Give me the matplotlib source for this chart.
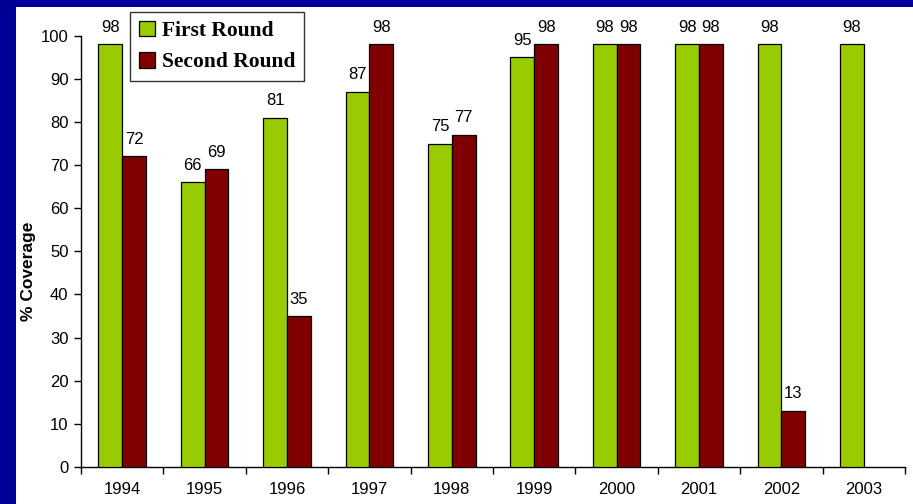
import matplotlib
matplotlib.use("Agg")
import matplotlib.pyplot as plt
from matplotlib.patches import Rectangle
import numpy as np

years = ["1994", "1995", "1996", "1997", "1998", "1999", "2000", "2001", "2002", "2003"]
first_round = [98, 66, 81, 87, 75, 95, 98, 98, 98, 98]
second_round = [72, 69, 35, 98, 77, 98, 98, 98, 13, None]
yticks = [0, 10, 20, 30, 40, 50, 60, 70, 80, 90, 100]

W, H = 913, 504
fig = plt.figure(figsize=(W / 100, H / 100), dpi=100)
fig.patch.set_facecolor("#000099")
fig.patches.append(Rectangle((16 / W, 0), 1 - 16 / W, 1 - 7 / H,
                             transform=fig.transFigure, facecolor="white",
                             edgecolor="none", zorder=-10))

ax = fig.add_axes([81 / W, 1 - 467 / H, (905 - 81) / W, (467 - 35.7) / H])
ax.set_facecolor("none")
ax.set_zorder(5)

x = np.arange(len(years))
bw = 0.288
green = "#99CC00"
red = "#800000"

ax.bar(x - bw / 2, first_round, bw, color=green, edgecolor="black", linewidth=0.9,
       label="First Round", zorder=3)
sx = [xi for xi, v in zip(x, second_round) if v is not None]
sv = [v for v in second_round if v is not None]
ax.bar(np.array(sx) + bw / 2, sv, bw, color=red, edgecolor="black", linewidth=0.9,
       label="Second Round", zorder=3)

lab_font = dict(family="Liberation Sans", fontsize=12, color="black")
for xi, v in zip(x, first_round):
    ax.text(xi - bw / 2, v + 2.2, str(v), ha="center", va="bottom", **lab_font)
for xi, v in zip(sx, sv):
    ax.text(xi + bw / 2, v + 2.2, str(v), ha="center", va="bottom", **lab_font)

ax.set_xlim(-0.5, len(years) - 0.5)
ax.set_ylim(0, 100)
ax.set_yticks(yticks)
ax.set_yticklabels([str(t) for t in yticks], family="Liberation Sans", fontsize=12)
ax.set_xticks(x)
ax.set_xticklabels(years, family="Liberation Sans", fontsize=12)
ax.tick_params(axis="x", which="major", length=0, pad=11)
ax.set_xticks(np.arange(-0.5, len(years) + 0.5, 1), minor=True)
ax.tick_params(axis="x", which="minor", length=5, width=1, direction="out")
ax.tick_params(axis="y", length=5, width=1, direction="out", pad=4)
for s in ["top", "right"]:
    ax.spines[s].set_visible(False)
ax.spines["left"].set_linewidth(1)
ax.spines["bottom"].set_linewidth(1)

fig.text(28 / W, 1 - 271 / H, "% Coverage", rotation=90, ha="center", va="center",
         family="Liberation Sans", fontweight="bold", fontsize=12.5)

leg = ax.legend(loc="upper left", bbox_to_anchor=(130 / W, 1 - 12 / H),
                bbox_transform=fig.transFigure,
                prop=dict(family="Liberation Serif", weight="bold", size=15.5),
                frameon=True, fancybox=False, framealpha=1, edgecolor="#333333",
                handlelength=0.75, handleheight=0.75, handletextpad=0.35,
                labelspacing=0.5, borderpad=0.4, borderaxespad=0)
leg.get_frame().set_linewidth(1)

fig.savefig("out.png", dpi=100, facecolor=fig.get_facecolor())
